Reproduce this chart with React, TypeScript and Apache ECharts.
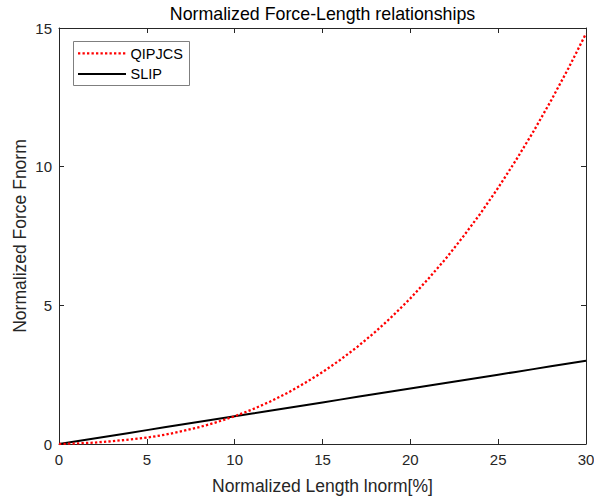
import React, { useEffect, useRef } from "react";
import * as echarts from "echarts";

const lengthNorm = [0, 1, 2, 3, 4, 5, 6, 7, 8, 9, 10, 11, 12, 13, 14, 15, 16, 17, 18, 19, 20, 21, 22, 23, 24, 25, 26, 27, 28, 29, 30];
const qipjcs = [0, 0.02, 0.05, 0.1, 0.16, 0.23, 0.33, 0.46, 0.61, 0.79, 1.0, 1.245, 1.525, 1.84, 2.2, 2.59, 3.03, 3.51, 4.04, 4.62, 5.25, 5.94, 6.67, 7.47, 8.32, 9.24, 10.22, 11.26, 12.37, 13.55, 14.8];
const slip = [0, 0.1, 0.2, 0.3, 0.4, 0.5, 0.6, 0.7, 0.8, 0.9, 1.0, 1.1, 1.2, 1.3, 1.4, 1.5, 1.6, 1.7, 1.8, 1.9, 2.0, 2.1, 2.2, 2.3, 2.4, 2.5, 2.6, 2.7, 2.8, 2.9, 3.0];
const seriesNames = ["QIPJCS", "SLIP"];
const titleText = "Normalized Force-Length relationships";
const xName = "Normalized Length lnorm[%]";
const yName = "Normalized Force Fnorm";

const FONT = "'Liberation Sans', Arial, Helvetica, sans-serif";
const AX = "#262626";
const RED_DASH = [2.3, 2.2];

export default function App() {
  const ref = useRef<HTMLDivElement>(null);
  useEffect(() => {
    if (!ref.current) return;
    const chart = echarts.init(ref.current, undefined, { renderer: "svg" });
    const axisCommon = {
      type: "value" as const,
      axisLine: { show: true, onZero: false, lineStyle: { color: AX, width: 1 } },
      axisTick: { show: true, inside: true, length: 5, lineStyle: { color: AX, width: 1 } },
      splitLine: { show: false },
    };
    const xBase = { ...axisCommon, min: 0, max: 30, interval: 5 };
    const yBase = { ...axisCommon, min: 0, max: 15, interval: 5 };
    chart.setOption({
      animation: false,
      backgroundColor: "#ffffff",
      textStyle: { fontFamily: FONT },
      grid: { left: 59, right: 8, top: 28, bottom: 56, containLabel: false, outerBoundsMode: "none" },
      graphic: [
        {
          type: "text",
          x: 322.5,
          y: 14,
          style: {
            text: titleText,
            fontFamily: FONT,
            fontSize: 17.8,
            fill: "#000000",
            textAlign: "center",
            textVerticalAlign: "middle",
          },
        },
        {
          type: "group",
          z: 100,
          children: [
            {
              type: "rect",
              shape: { x: 73.5, y: 41.5, width: 116, height: 44 },
              style: { fill: "#ffffff", stroke: "#7f7f7f", lineWidth: 1 },
            },
            {
              type: "line",
              shape: { x1: 78, y1: 53.3, x2: 126, y2: 53.3 },
              style: { stroke: "#ff0000", lineWidth: 2.3, lineDash: RED_DASH },
            },
            {
              type: "text",
              x: 130.5,
              y: 53.5,
              style: {
                text: seriesNames[0],
                fontFamily: FONT,
                fontSize: 14.5,
                fill: "#000000",
                textAlign: "left",
                textVerticalAlign: "middle",
              },
            },
            {
              type: "line",
              shape: { x1: 78, y1: 74, x2: 126, y2: 74 },
              style: { stroke: "#000000", lineWidth: 2 },
            },
            {
              type: "text",
              x: 130.5,
              y: 74,
              style: {
                text: seriesNames[1],
                fontFamily: FONT,
                fontSize: 14.5,
                fill: "#000000",
                textAlign: "left",
                textVerticalAlign: "middle",
              },
            },
          ],
        },
      ],
      xAxis: [
        {
          ...xBase,
          position: "bottom",
          name: xName,
          nameLocation: "middle",
          nameGap: 33,
          nameMoveOverlap: false,
          nameTextStyle: { fontFamily: FONT, fontSize: 17.5, color: AX },
          axisLabel: { show: true, margin: 8, fontFamily: FONT, fontSize: 15, color: AX },
        },
        {
          ...xBase,
          position: "top",
          axisLabel: { show: false },
        },
      ],
      yAxis: [
        {
          ...yBase,
          position: "left",
          name: yName,
          nameLocation: "middle",
          nameGap: 30,
          nameMoveOverlap: false,
          nameTextStyle: { fontFamily: FONT, fontSize: 17.5, color: AX },
          axisLabel: { show: true, margin: 7, fontFamily: FONT, fontSize: 15, color: AX },
        },
        {
          ...yBase,
          position: "right",
          axisLabel: { show: false },
        },
      ],
      series: [
        {
          name: seriesNames[0],
          type: "line",
          xAxisIndex: 0,
          yAxisIndex: 0,
          symbol: "none",
          color: "#ff0000",
          lineStyle: { color: "#ff0000", width: 2.3, type: RED_DASH },
          data: lengthNorm.map((x, i) => [x, qipjcs[i]]),
          z: 3,
        },
        {
          name: seriesNames[1],
          type: "line",
          xAxisIndex: 0,
          yAxisIndex: 0,
          symbol: "none",
          color: "#000000",
          lineStyle: { color: "#000000", width: 2 },
          data: lengthNorm.map((x, i) => [x, slip[i]]),
          z: 2,
        },
      ],
    });
    return () => chart.dispose();
  }, []);
  return <div ref={ref} style={{ width: 594, height: 500, position: "absolute", left: 0, top: 0 }} />;
}
